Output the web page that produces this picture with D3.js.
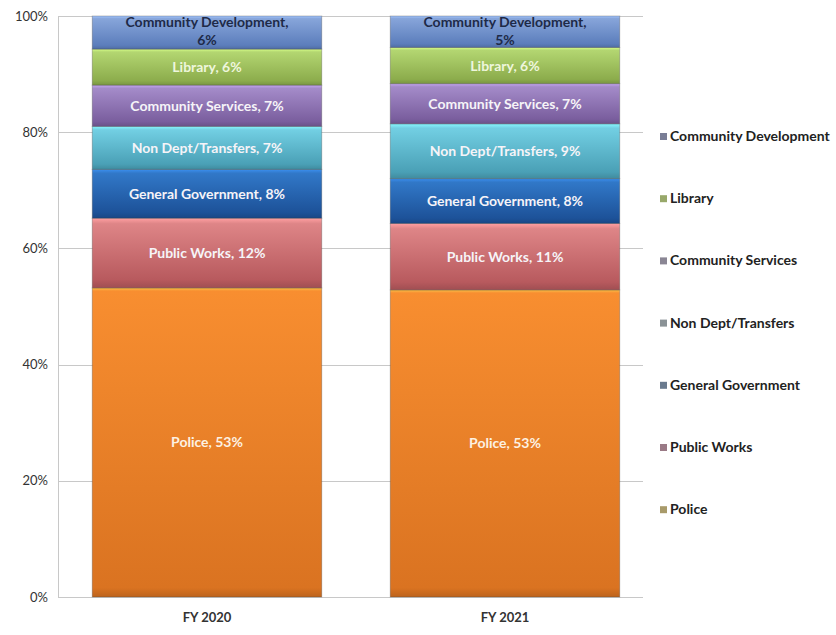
<!DOCTYPE html>
<html>
<head>
<meta charset="utf-8">
<script src="https://cdn.jsdelivr.net/npm/d3@7"></script>
<style>
  body { margin: 0; background: #fff; }
  svg text { font-family: Lato, "Noto Sans", sans-serif; }
</style>
</head>
<body>
<div id="chart"></div>
<script>
// shares (percent of budget); labels are these rounded
const years = ["FY 2020", "FY 2021"];
const departments = ["Police", "Public Works", "General Government", "Non Dept/Transfers",
                     "Community Services", "Library", "Community Development"];
const fy2020 = [53.2, 12.0, 8.4, 7.4, 7.1, 6.2, 5.7];
const fy2021 = [52.7, 11.4, 7.7, 9.4, 6.9, 6.2, 5.4];
const yTicks = [0, 0.2, 0.4, 0.6, 0.8, 1];

// colours, [top, bottom] of each segment gradient
const colors = {
    "Police": ["#f88e30", "#da7321"],
    "Public Works": ["#de8587", "#b85a5e"],
    "General Government": ["#3178c8", "#1d5299"],
    "Non Dept/Transfers": ["#72cfe3", "#4aa0b6"],
    "Community Services": ["#a48bc9", "#7a5e9e"],
    "Library": ["#b3d671", "#8cac4c"],
    "Community Development": ["#87a5da", "#5c7ebc"]
};
const legendSwatch = {
    "Police": "#a89a6a", "Public Works": "#9a7a86", "General Government": "#6a7a8e",
    "Non Dept/Transfers": "#8a9296", "Community Services": "#8a8694",
    "Library": "#98a86a", "Community Development": "#7a7e96"
};

const config = { width: 836, height: 635, left: 58, right: 654, top: 16, bottom: 597 };

const svg = d3.select("#chart").append("svg")
    .attr("width", config.width)
    .attr("height", config.height);

const table = years.map((y, i) => {
    const row = { year: y };
    departments.forEach((d, j) => row[d] = (i === 0 ? fy2020 : fy2021)[j]);
    return row;
});

const series = d3.stack()
    .keys(departments)
    .offset(d3.stackOffsetExpand)(table);

const xScale = d3.scaleBand()
    .domain(years)
    .range([config.left, config.right])
    .paddingInner(0.23)
    .paddingOuter(0.115);

const yScale = d3.scaleLinear()
    .domain([0, 1])
    .range([config.bottom, config.top]);

// gradients
const defs = svg.append("defs");
departments.forEach((d, i) => {
    const g = defs.append("linearGradient")
        .attr("id", "grad" + i)
        .attr("x1", 0).attr("y1", 0).attr("x2", 0).attr("y2", 1);
    const top = i === 0 ? "#fbc04a" : d3.color(colors[d][0]).brighter(0.5);
    g.append("stop").attr("offset", "0%").attr("stop-color", top);
    g.append("stop").attr("offset", i === 0 ? "1%" : "8%").attr("stop-color", colors[d][0]);
    g.append("stop").attr("offset", i === 0 ? "97%" : "88%").attr("stop-color", colors[d][1]);
    g.append("stop").attr("offset", "100%").attr("stop-color", d3.color(colors[d][1]).darker(0.4));
});

// grid lines
svg.append("g")
    .selectAll("line")
    .data(yTicks)
    .enter().append("line")
    .attr("x1", config.left)
    .attr("x2", 643)
    .attr("y1", d => Math.round(yScale(d)) + 0.5)
    .attr("y2", d => Math.round(yScale(d)) + 0.5)
    .attr("stroke", "#c8c8c8")
    .attr("stroke-width", 1);

// y axis
const yAxis = d3.axisLeft(yScale)
    .tickValues(yTicks)
    .tickFormat(d3.format(".0%"))
    .tickSize(0)
    .tickPadding(10);

svg.append("g")
    .attr("class", "axis axis--y")
    .attr("transform", `translate(${config.left},0)`)
    .call(yAxis)
    .call(g => g.select(".domain").attr("stroke", "#c8c8c8"))
    .call(g => g.selectAll("text")
        .attr("font-size", 13)
        .attr("fill", "#333"));

// x axis
svg.append("g")
    .attr("class", "axis axis--x")
    .attr("transform", `translate(0,${config.bottom})`)
    .call(d3.axisBottom(xScale).tickSize(0).tickPadding(16))
    .call(g => g.select(".domain").remove())
    .call(g => g.selectAll("text")
        .attr("font-size", 13)
        .attr("font-weight", "bold")
        .attr("fill", "#333"));

// bars
const layers = svg.append("g")
    .selectAll("g")
    .data(series)
    .enter().append("g")
    .attr("fill", (d, i) => `url(#grad${i})`);

layers.selectAll("rect")
    .data(d => d)
    .enter().append("rect")
    .attr("x", d => xScale(d.data.year))
    .attr("y", d => yScale(d[1]))
    .attr("width", xScale.bandwidth())
    .attr("height", d => yScale(d[0]) - yScale(d[1]))
    .attr("stroke", "rgba(60,60,60,0.3)")
    .attr("stroke-width", 1);

// segment labels
const fmt = d3.format(".0f");
series.forEach(s => {
    const name = s.key;
    s.forEach(d => {
        const val = fmt(d.data[name]);
        const cx = xScale(d.data.year) + xScale.bandwidth() / 2;
        const y0 = yScale(d[0]), y1 = yScale(d[1]);
        const t = svg.append("text")
            .attr("x", cx)
            .attr("text-anchor", "middle")
            .attr("font-size", 14)
            .attr("font-weight", "bold");
        if (name === "Community Development") {
            t.attr("fill", "#1e2a48");
            t.append("tspan").attr("x", cx).attr("y", y1 + 11).text(name + ",");
            t.append("tspan").attr("x", cx).attr("y", y1 + 29).text(val + "%");
        } else {
            t.attr("fill", name === "Library" ? "#eef6dc" : (name === "Police" ? "#fdf1e2" : "#f6f4f8"))
                .attr("y", (y0 + y1) / 2 + 5)
                .text(`${name}, ${val}%`);
        }
    });
});

// legend
const legend = svg.append("g")
    .attr("transform", "translate(660,136)")
    .selectAll("g")
    .data(departments.slice().reverse())
    .enter().append("g")
    .attr("transform", (d, i) => `translate(0,${i * 62.2})`);

legend.append("rect")
    .attr("x", 0).attr("y", -3)
    .attr("width", 7).attr("height", 7)
    .attr("fill", d => legendSwatch[d]);

legend.append("text")
    .attr("x", 10)
    .attr("y", 5)
    .attr("font-size", 14)
    .attr("font-weight", "bold")
    .attr("fill", "#222")
    .text(d => d);
</script>
</body>
</html>
